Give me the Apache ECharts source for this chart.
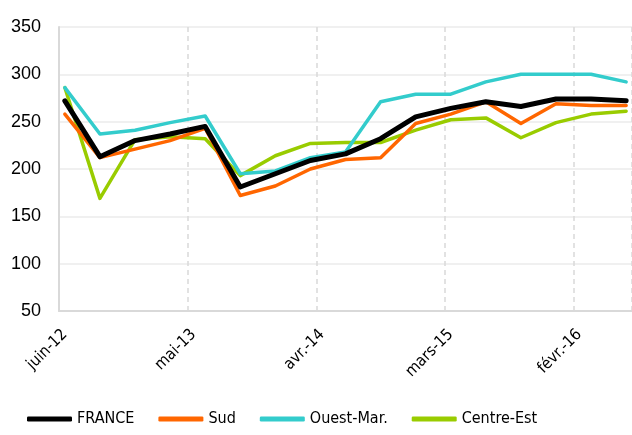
<!DOCTYPE html>
<html>
<head>
<meta charset="utf-8">
<script src="https://cdn.jsdelivr.net/npm/echarts@6/dist/echarts.min.js"></script>
<style>
  html, body { margin: 0; padding: 0; background: #fff; }
  #chart { width: 632px; height: 435px; }
</style>
</head>
<body>
<div id="chart"></div>
<script>
  // mois (axe des x), un libellé sur 11 est affiché
  var months = [
    'juin-12', 'juil.-12', 'août-12', 'sept.-12', 'oct.-12', 'nov.-12', 'déc.-12',
    'janv.-13', 'févr.-13', 'mars-13', 'avr.-13', 'mai-13', 'juin-13', 'juil.-13',
    'août-13', 'sept.-13', 'oct.-13', 'nov.-13', 'déc.-13', 'janv.-14', 'févr.-14',
    'mars-14', 'avr.-14', 'mai-14', 'juin-14', 'juil.-14', 'août-14', 'sept.-14',
    'oct.-14', 'nov.-14', 'déc.-14', 'janv.-15', 'févr.-15', 'mars-15', 'avr.-15',
    'mai-15', 'juin-15', 'juil.-15', 'août-15', 'sept.-15', 'oct.-15', 'nov.-15',
    'déc.-15', 'janv.-16', 'févr.-16', 'mars-16', 'avr.-16', 'mai-16', 'juin-16'
  ];
  // données trimestrielles
  var quarters = [
    'juin-12', 'sept.-12', 'déc.-12', 'mars-13', 'juin-13', 'sept.-13', 'déc.-13',
    'mars-14', 'juin-14', 'sept.-14', 'déc.-14', 'mars-15', 'juin-15', 'sept.-15',
    'déc.-15', 'mars-16', 'juin-16'
  ];
  var france    = [272, 213, 230, 237, 245, 181, 195, 209, 216, 232, 255, 264, 271, 266, 274, 274, 272];
  var sud       = [258, 212, 221, 230, 243, 172, 182, 200, 210, 212, 248, 258, 271, 248, 269, 267, 267];
  var ouestMar  = [286, 237, 241, 249, 256, 195, 198, 212, 218, 271, 279, 279, 292, 300, 300, 300, 292];
  var centreEst = [286, 169, 231, 234, 232, 193, 214, 227, 228, 228, 241, 252, 254, 233, 249, 258, 261];
  var yTicks = { min: 50, max: 350, interval: 50 };

  function pairs(values) {
    return values.map(function (v, i) { return [quarters[i], v]; });
  }

  var chart = echarts.init(document.getElementById('chart'));

  function lineSeries(name, values, color, width) {
    return {
      name: name,
      type: 'line',
      data: pairs(values),
      symbol: 'none',
      connectNulls: true,
      lineStyle: { color: color, width: width, cap: 'round', join: 'round' },
      itemStyle: { color: color }
    };
  }

  var narrow = '"Liberation Sans Narrow", "DejaVu Sans Condensed", sans-serif';

  var option = {
    animation: false,
    grid: { left: 59, right: 0, top: 27, bottom: 124 },
    legend: {
      top: 411,
      left: 27,
      padding: 0,
      itemWidth: 45,
      itemHeight: 5,
      itemGap: 24,
      icon: 'roundRect',
      textStyle: { fontFamily: narrow, fontSize: 16, color: '#000' },
      data: ['FRANCE', 'Sud', 'Ouest-Mar.', 'Centre-Est']
    },
    xAxis: {
      type: 'category',
      data: months,
      boundaryGap: true,
      axisLine: { lineStyle: { color: '#d9d9d9', width: 2 } },
      axisTick: { interval: 10, length: 5, lineStyle: { color: '#d9d9d9', width: 2 } },
      axisLabel: {
        interval: 10,
        rotate: 45,
        margin: 21,
        fontFamily: narrow,
        fontSize: 16,
        color: '#000'
      },
      splitLine: { show: true, interval: 10, lineStyle: { color: '#d9d9d9', width: 1.5, type: [5, 4] } }
    },
    yAxis: {
      type: 'value',
      min: yTicks.min,
      max: yTicks.max,
      interval: yTicks.interval,
      axisLine: { show: true, lineStyle: { color: '#d9d9d9', width: 2 } },
      axisTick: { show: false },
      axisLabel: { fontFamily: '"Liberation Sans", Arial, sans-serif', fontSize: 18, color: '#000', margin: 18 },
      splitLine: { lineStyle: { color: '#ebebeb', width: 1.5 } }
    },
    series: [
      lineSeries('Centre-Est', centreEst, '#99cc00', 3.5),
      lineSeries('Ouest-Mar.', ouestMar, '#33cccc', 3.5),
      lineSeries('Sud', sud, '#ff6600', 3.5),
      lineSeries('FRANCE', france, '#000000', 5)
    ]
  };
  chart.setOption(option);
</script>
</body>
</html>
